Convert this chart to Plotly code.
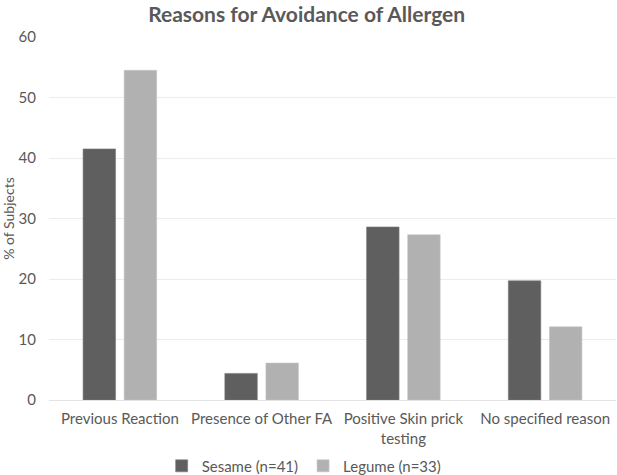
import plotly.graph_objects as go

categories = ["Previous Reaction", "Presence of Other FA", "Positive Skin prick<br>testing", "No specified reason"]
sesame = [41.5, 4.4, 28.6, 19.7]
legume = [54.5, 6.1, 27.3, 12.1]
series_names = ["Sesame (n=41)", "Legume (n=33)"]
y_ticks = [0, 10, 20, 30, 40, 50, 60]

FONT = "Lato"
TXT = "#595959"

fig = go.Figure()
fig.add_trace(go.Bar(x=categories, y=sesame, name=series_names[0],
                     marker=dict(color="#5e5f5e", line=dict(color="#7a7a7a", width=0.6))))
fig.add_trace(go.Bar(x=categories, y=legume, name=series_names[1],
                     marker=dict(color="#b1b1b1", line=dict(color="#c4c4c4", width=0.6))))

fig.update_layout(
    width=617, height=475,
    margin=dict(l=49, r=1, t=37, b=75, autoexpand=False),
    paper_bgcolor="white", plot_bgcolor="white",
    barmode="group", bargap=0.42, bargroupgap=0.21,
    font=dict(family=FONT, color=TXT, size=15),
    title=dict(text="<b>Reasons for Avoidance of Allergen</b>", x=0.497, xanchor="center",
               y=0.97, yanchor="middle", font=dict(family=FONT, size=21, color=TXT)),
    xaxis=dict(showgrid=False, showline=True, linecolor="#e3e3e3", linewidth=1,
               ticks="", tickfont=dict(size=15, color=TXT), automargin=False,
               ticklabelstandoff=5),
    yaxis=dict(range=[0, 60], tickvals=y_ticks, showgrid=True, gridcolor="#ececec",
               gridwidth=1, zeroline=False, showline=False, ticks="",
               tickfont=dict(size=15, color=TXT), automargin=False,
               ticklabelstandoff=12,
               title=dict(text="% of Subjects", font=dict(size=14, color=TXT), standoff=0)),
    legend=dict(orientation="h", x=0.45, xanchor="center", y=-0.182, yanchor="middle",
                font=dict(size=15, color=TXT), itemwidth=30, traceorder="normal",
                tracegroupgap=0, bgcolor="rgba(0,0,0,0)"),
    showlegend=True,
)

fig.write_html(
    "out.html",
    config={"displayModeBar": False},
    post_script="document.body.style.margin='0';document.documentElement.style.overflow='hidden';document.body.style.overflow='hidden';",
)
